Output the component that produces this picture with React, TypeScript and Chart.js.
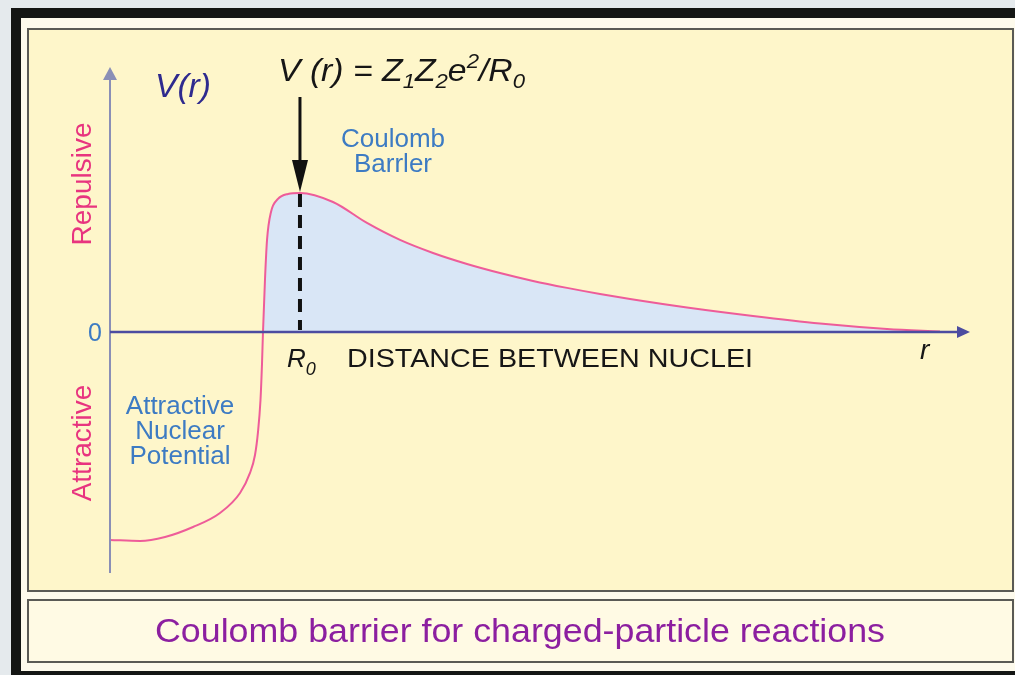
import React, { useEffect, useRef } from "react";
import { Chart, registerables } from "chart.js";

Chart.register(...registerables);

// Distance between nuclei (arbitrary units, 0 = origin of r axis)
const distance = [
  0.0, 3.49, 6.4, 9.65, 12.79, 15.12, 16.28, 16.86, 17.21, 17.5, 17.67, 17.79,
  18.02, 18.26, 18.72, 19.53, 20.7, 22.09, 25.93, 29.88, 33.72, 37.56, 41.51, 45.35,
  49.19, 53.14, 56.98, 60.47, 67.09, 74.77, 82.56, 90.35, 96.51,
];
// Potential V(r) (arbitrary units, barrier height = 100)
const potential = [
  -149.6, -150.4, -147.5, -140.3, -130.2, -115.8, -101.4, -88.5, -71.9, -48.9, -23.7, 0,
  37.4, 66.2, 86.3, 95.7, 99.3, 100, 93.5, 78.4, 66.2, 56.8, 48.9, 42.4,
  36.7, 31.7, 27.3, 23.7, 17.6, 11.5, 6.1, 2.2, 0.4,
];
const yTickLabels = ["0"];
const sideLabels = ["Repulsive", "Attractive"];
const regionLabelBarrier = ["Coulomb", "Barrler"];
const regionLabelNuclear = ["Attractive", "Nuclear", "Potential"];
const xAxisTitle = "DISTANCE BETWEEN NUCLEI";
const captionText = "Coulomb barrier for charged-particle reactions";

const FONT = "'Liberation Sans', Arial, Helvetica, sans-serif";

type Part = { t: string; font: string; dy?: number };

function drawRich(
  ctx: CanvasRenderingContext2D,
  parts: Part[],
  x: number,
  baseline: number,
  targetWidth: number | null,
  color: string
) {
  ctx.save();
  ctx.fillStyle = color;
  ctx.textBaseline = "alphabetic";
  ctx.textAlign = "left";
  let total = 0;
  const widths = parts.map((p) => {
    ctx.font = p.font;
    const w = ctx.measureText(p.t).width;
    total += w;
    return w;
  });
  const sx = targetWidth ? targetWidth / total : 1;
  ctx.translate(x, baseline);
  ctx.scale(sx, 1);
  let cx = 0;
  parts.forEach((p, i) => {
    ctx.font = p.font;
    ctx.fillText(p.t, cx, p.dy || 0);
    cx += widths[i];
  });
  ctx.restore();
}

function fitText(
  ctx: CanvasRenderingContext2D,
  text: string,
  cx: number,
  baseline: number,
  font: string,
  targetWidth: number,
  color: string
) {
  ctx.save();
  ctx.font = font;
  ctx.fillStyle = color;
  ctx.textAlign = "center";
  ctx.textBaseline = "alphabetic";
  const w = ctx.measureText(text).width;
  ctx.translate(cx, baseline);
  ctx.scale(targetWidth / w, 1);
  ctx.fillText(text, 0, 0);
  ctx.restore();
}

const decor = {
  id: "decor",
  beforeDraw(chart: any) {
    const ctx: CanvasRenderingContext2D = chart.ctx;
    const W = chart.width;
    const H = chart.height;
    ctx.save();
    // page background
    ctx.fillStyle = "#e5eaed";
    ctx.fillRect(0, 0, W, H);
    // black frame
    ctx.fillStyle = "#141614";
    ctx.fillRect(11, 8, W - 11, H - 8);
    // off-white inner band
    ctx.fillStyle = "#fdfaec";
    ctx.fillRect(21, 18, W - 21, 653);
    // main panel
    ctx.fillStyle = "#fef6ca";
    ctx.fillRect(28, 29, 985, 562);
    ctx.strokeStyle = "#5a5a55";
    ctx.lineWidth = 2;
    ctx.strokeRect(28, 29, 985, 562);
    // caption box
    ctx.fillStyle = "#fffae4";
    ctx.fillRect(28, 600, 985, 62);
    ctx.strokeRect(28, 600, 985, 62);
    ctx.restore();

    fitText(ctx, captionText, 520, 642, `34px ${FONT}`, 730, "#8c1fa0");
  },
  afterDatasetsDraw(chart: any) {
    const ctx: CanvasRenderingContext2D = chart.ctx;
    const xs = chart.scales.x;
    const ys = chart.scales.y;
    const area = chart.chartArea;
    const x0 = xs.getPixelForValue(0);
    const y0 = ys.getPixelForValue(0);

    // peak (barrier) location
    let pi = 0;
    potential.forEach((v, i) => {
      if (v > potential[pi]) pi = i;
    });
    const R0 = distance[pi];
    const px = xs.getPixelForValue(R0);
    const py = ys.getPixelForValue(potential[pi]);

    ctx.save();
    // dashed line at R0
    ctx.strokeStyle = "#111";
    ctx.lineWidth = 4;
    ctx.setLineDash([13, 8]);
    ctx.beginPath();
    ctx.moveTo(px, py + 1);
    ctx.lineTo(px, y0 - 2);
    ctx.stroke();
    ctx.setLineDash([]);

    // y axis
    ctx.strokeStyle = "#8a8fb6";
    ctx.lineWidth = 2;
    ctx.beginPath();
    ctx.moveTo(x0, area.top + 10);
    ctx.lineTo(x0, area.bottom);
    ctx.stroke();
    ctx.fillStyle = "#8a8fb6";
    ctx.beginPath();
    ctx.moveTo(x0, area.top);
    ctx.lineTo(x0 - 7, area.top + 13);
    ctx.lineTo(x0 + 7, area.top + 13);
    ctx.closePath();
    ctx.fill();

    // x axis
    ctx.strokeStyle = "#4c4ca0";
    ctx.lineWidth = 2.5;
    ctx.beginPath();
    ctx.moveTo(x0, y0);
    ctx.lineTo(area.right - 10, y0);
    ctx.stroke();
    ctx.fillStyle = "#4c4ca0";
    ctx.beginPath();
    ctx.moveTo(area.right, y0);
    ctx.lineTo(area.right - 13, y0 - 6);
    ctx.lineTo(area.right - 13, y0 + 6);
    ctx.closePath();
    ctx.fill();

    // arrow pointing to barrier top
    ctx.strokeStyle = "#111";
    ctx.fillStyle = "#111";
    ctx.lineWidth = 3;
    ctx.beginPath();
    ctx.moveTo(px, 97);
    ctx.lineTo(px, py - 30);
    ctx.stroke();
    ctx.beginPath();
    ctx.moveTo(px, py - 1);
    ctx.lineTo(px - 8, py - 33);
    ctx.lineTo(px + 8, py - 33);
    ctx.closePath();
    ctx.fill();
    ctx.restore();

    // texts
    drawRich(ctx, [{ t: "V(r)", font: `italic 34px ${FONT}` }], 155, 97, 56, "#2e2a8e");

    drawRich(
      ctx,
      [
        { t: "V (r) = Z", font: `italic 32px ${FONT}` },
        { t: "1", font: `italic 21px ${FONT}`, dy: 7 },
        { t: "Z", font: `italic 32px ${FONT}` },
        { t: "2", font: `italic 21px ${FONT}`, dy: 7 },
        { t: "e", font: `italic 32px ${FONT}` },
        { t: "2", font: `italic 21px ${FONT}`, dy: -13 },
        { t: "/R", font: `italic 32px ${FONT}` },
        { t: "0", font: `italic 21px ${FONT}`, dy: 7 },
      ],
      278,
      81,
      247,
      "#161616"
    );

    ctx.save();
    ctx.fillStyle = "#3d7bc3";
    ctx.font = `26px ${FONT}`;
    ctx.textAlign = "center";
    ctx.textBaseline = "alphabetic";
    ctx.fillText(regionLabelBarrier[0], 393, 147);
    ctx.fillText(regionLabelBarrier[1], 393, 172);
    regionLabelNuclear.forEach((t, i) => ctx.fillText(t, 180, 414 + i * 25));
    ctx.font = `25px ${FONT}`;
    ctx.textAlign = "right";
    ctx.fillText(yTickLabels[0], 102, 341);

    // side labels
    ctx.fillStyle = "#e8347f";
    ctx.font = `28px ${FONT}`;
    ctx.textAlign = "center";
    ctx.textBaseline = "middle";
    ctx.save();
    ctx.translate(83, 184);
    ctx.rotate(-Math.PI / 2);
    ctx.fillText(sideLabels[0], 0, 0);
    ctx.restore();
    ctx.save();
    ctx.translate(83, 443);
    ctx.rotate(-Math.PI / 2);
    ctx.fillText(sideLabels[1], 0, 0);
    ctx.restore();
    ctx.restore();

    drawRich(
      ctx,
      [
        { t: "R", font: `italic 26px ${FONT}` },
        { t: "0", font: `italic 18px ${FONT}`, dy: 8 },
      ],
      287,
      367,
      null,
      "#161616"
    );
    drawRich(ctx, [{ t: xAxisTitle, font: `26px ${FONT}` }], 347, 367, 406, "#161616");
    drawRich(ctx, [{ t: "r", font: `italic 28px ${FONT}` }], 920, 359, null, "#161616");
  },
};

export default function App() {
  const ref = useRef<HTMLCanvasElement>(null);
  useEffect(() => {
    const canvas = ref.current;
    if (!canvas) return;
    const chart = new Chart(canvas, {
      type: "line",
      data: {
        datasets: [
          {
            data: distance.map((r, i) => ({ x: r, y: potential[i] })),
            borderColor: "#ee5c99",
            borderWidth: 2,
            pointRadius: 0,
            cubicInterpolationMode: "monotone",
            fill: { target: "origin", above: "#d9e6f6", below: "rgba(0,0,0,0)" },
          } as any,
        ],
      },
      options: {
        responsive: false,
        animation: false,
        events: [],
        layout: { padding: { left: 110, right: 45, top: 67, bottom: 102 } },
        scales: {
          x: { type: "linear", min: 0, max: 100, display: false },
          y: { type: "linear", min: -173.4, max: 190.6, display: false },
        },
        plugins: { legend: { display: false }, tooltip: { enabled: false } },
      },
      plugins: [decor],
    });
    return () => chart.destroy();
  }, []);
  return (
    <div style={{ position: "fixed", left: 0, top: 0, width: 1015, height: 675 }}>
      <canvas ref={ref} width={1015} height={675} style={{ display: "block" }} />
    </div>
  );
}
